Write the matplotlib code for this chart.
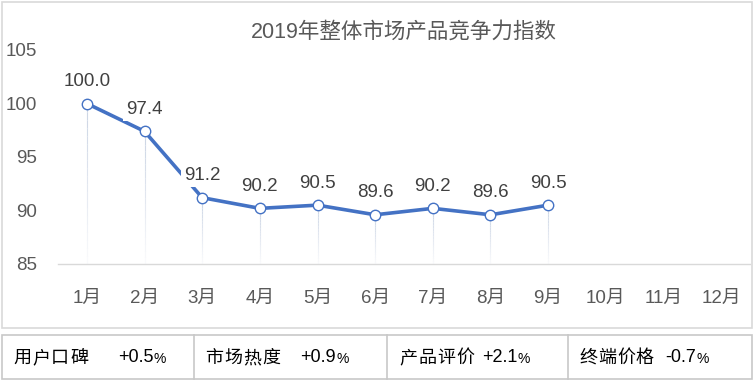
import matplotlib
matplotlib.use("Agg")
import matplotlib.pyplot as plt
import numpy as np
from matplotlib.patches import Rectangle
from matplotlib.lines import Line2D

plt.rcParams['font.family'] = ['Liberation Sans', 'Noto Sans CJK SC', 'DejaVu Sans']

title = "2019年整体市场产品竞争力指数"
months = ["1月", "2月", "3月", "4月", "5月", "6月", "7月", "8月", "9月", "10月", "11月", "12月"]
values = [100.0, 97.4, 91.2, 90.2, 90.5, 89.6, 90.2, 89.6, 90.5]
y_ticks = [85, 90, 95, 100, 105]
table_names = ["用户口碑", "市场热度", "产品评价", "终端价格"]
table_values = ["+0.5", "+0.9", "+2.1", "-0.7"]

W, H = 755, 381
fig = plt.figure(figsize=(W / 100, H / 100), dpi=100)

def fx(px):
    return px / W

def fy(py):
    return 1 - py / H

# chart frame
fig.patches.append(Rectangle((fx(2), fy(328)), fx(752) - fx(2), fy(2) - fy(328),
                             transform=fig.transFigure, fill=False, edgecolor="#D9D9D9", lw=1.2))

ax = fig.add_axes([fx(58), fy(264), fx(750) - fx(58), fy(50) - fy(264)])
x = np.arange(len(months))
xv = x[:len(values)]
blue = "#4472C4"

# drop lines with fading
n_seg = 20
for xi, vi in zip(xv, values):
    ys = np.linspace(85, vi, n_seg + 1)
    for k in range(n_seg):
        a = 0.1 + 0.9 * (k / n_seg)
        ax.plot([xi, xi], [ys[k], ys[k + 1]], color="#C9D3E3", lw=0.8, alpha=a,
                solid_capstyle="butt", zorder=1)

ax.plot(xv, values, color=blue, lw=2.6, zorder=3)
ax.plot(xv, values, linestyle="none", marker="o", markersize=7.5, markerfacecolor="white",
        markeredgecolor=blue, markeredgewidth=1.0, zorder=5)

for xi, vi in zip(xv, values):
    ax.annotate(f"{vi:.1f}", (xi, vi), xytext=(0, 22), textcoords="offset pixels",
                ha="center", va="center", fontsize=13.5, color="#404040", zorder=4,
                bbox=dict(boxstyle="square,pad=0.15", fc="white", ec="none"))

ax.set_xlim(-0.5, len(months) - 0.5)
ax.set_ylim(85, 105)
ax.set_xticks(x)
ax.set_xticklabels(months)
ax.set_yticks(y_ticks)
ax.tick_params(axis="both", length=0, labelsize=13.5, colors="#595959")
ax.tick_params(axis="x", pad=19)
ax.tick_params(axis="y", pad=15)
for s in ["top", "right", "left"]:
    ax.spines[s].set_visible(False)
ax.spines["bottom"].set_color("#D9D9D9")
ax.spines["bottom"].set_linewidth(1.0)
ax.patch.set_alpha(0)

fig.text((fx(58) + fx(750)) / 2, fy(32), title, ha="center", va="center", fontsize=15.5, color="#595959")

# table
top, bot = 335, 379
edges = [2, 194, 387, 568, 752]
fig.patches.append(Rectangle((fx(2), fy(bot)), fx(752) - fx(2), fy(top) - fy(bot),
                             transform=fig.transFigure, fill=False, edgecolor="#C8C8C8", lw=1.2))
for e in edges[1:-1]:
    fig.lines.append(Line2D([fx(e), fx(e)], [fy(bot), fy(top)], transform=fig.transFigure,
                            color="#C8C8C8", lw=1.2))
name_x = [13, 205, 399, 579]
val_x = [118, 300, 482, 665]
ty = fy(358)
pitch = 19
renderer = fig.canvas.get_renderer()
for nm, vl, nx, vx in zip(table_names, table_values, name_x, val_x):
    for i, ch in enumerate(nm):
        fig.text(fx(nx + i * pitch), ty, ch, ha="left", va="center", fontsize=13, color="black",
                 family=['Noto Sans CJK SC'])
    t = fig.text(fx(vx), ty, vl, ha="left", va="center", fontsize=13, color="black")
    bb = t.get_window_extent(renderer=renderer)
    fig.text(bb.x1 / W + 0.0005, ty - 0.002, "%", ha="left", va="center", fontsize=10, color="black")

fig.savefig("out.png", dpi=100)
